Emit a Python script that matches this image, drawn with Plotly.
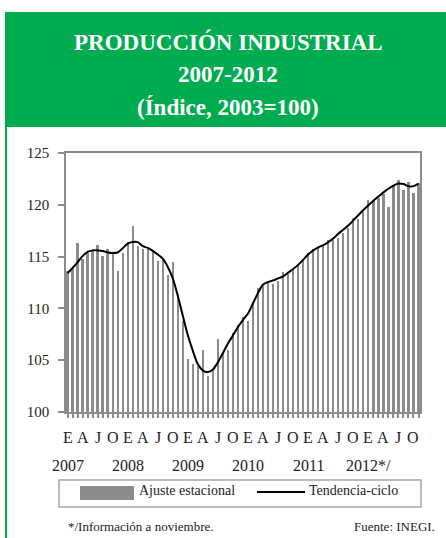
import plotly.graph_objects as go

# ---------------- data ----------------
months = list(range(71))  # Jan 2007 .. Nov 2012
ajuste_estacional = [
    113.6, 113.8, 116.3, 114.8, 115.3, 115.5, 116.1, 115.1, 115.7, 115.4, 113.6, 115.3,
    116.4, 118.0, 116.0, 115.7, 115.8, 115.4, 114.6, 114.9, 113.2, 114.5, 111.4, 108.8,
    105.1, 104.6, 104.4, 106.0, 103.5, 104.1, 107.0, 105.6, 106.0, 107.6, 108.4, 109.2,
    108.8, 110.5, 112.0, 112.4, 112.5, 112.4, 112.6, 113.5, 113.3, 113.8, 114.3, 114.8,
    115.3, 115.7, 115.85, 116.1, 116.6, 116.65, 116.8, 117.25, 117.8, 118.7, 118.6, 119.3,
    120.5, 120.35, 120.7, 121.0, 119.8, 121.9, 122.4, 121.4, 122.2, 121.1, 122.1,
]
tendencia_ciclo = [
    113.4, 113.9, 114.45, 115.05, 115.45, 115.6, 115.6, 115.55, 115.4, 115.35, 115.4, 115.8,
    116.25, 116.4, 116.4, 116.0, 115.85, 115.55, 115.2, 114.8, 114.0, 112.9, 111.2, 109.3,
    107.4, 105.9, 104.6, 104.0, 103.85, 104.1, 104.8, 105.7, 106.6, 107.4, 108.2, 108.9,
    109.5, 110.5, 111.5, 112.3, 112.55, 112.7, 112.9, 113.1, 113.45, 113.8, 114.2, 114.7,
    115.2, 115.6, 115.9, 116.1, 116.4, 116.75, 117.2, 117.6, 118.0, 118.5, 119.0, 119.5,
    119.95, 120.4, 120.8, 121.2, 121.55, 121.85, 122.05, 122.0, 121.8, 121.8, 122.05,
]
month_letter_pos = list(range(0, 71, 3))
month_letters = ["E", "A", "J", "O"] * 6
year_pos = [0, 12, 24, 36, 48, 60]
year_labels = ["2007", "2008", "2009", "2010", "2011", "2012*/"]
y_ticks = [100, 105, 110, 115, 120, 125]

# ---------------- layout helpers ----------------
W, H = 446, 538
L, R, T, B = 66, 420, 153, 412


def px(x):
    return (x - L) / (R - L)


def py(y):
    return (B - y) / (B - T)


SERIF = "Liberation Serif"
GREEN = "#00ac4f"
GRAY = "#8c8c8c"

fig = go.Figure()
fig.add_trace(go.Bar(x=months, y=ajuste_estacional, width=0.45,
                     marker=dict(color=GRAY, line=dict(width=0)),
                     name="Ajuste estacional", showlegend=False))
fig.add_trace(go.Scatter(x=months, y=tendencia_ciclo, mode="lines",
                         line=dict(color="black", width=2, shape="spline", smoothing=0.8),
                         name="Tendencia-ciclo", showlegend=False))

shapes = [
    dict(type="rect", xref="paper", yref="paper", x0=px(5), x1=px(450), y0=py(127), y1=py(12),
         fillcolor=GREEN, line=dict(width=0), layer="below"),
    dict(type="rect", xref="paper", yref="paper", x0=px(5), x1=px(7), y0=py(545), y1=py(127),
         fillcolor=GREEN, line=dict(width=0), layer="below"),
    dict(type="rect", xref="paper", yref="paper", x0=px(59), x1=px(421), y0=py(507), y1=py(480),
         line=dict(color="#a6a6a6", width=1.5), fillcolor="rgba(0,0,0,0)"),
    dict(type="rect", xref="paper", yref="paper", x0=px(80), x1=px(134), y0=py(500), y1=py(486),
         fillcolor=GRAY, line=dict(width=0)),
    dict(type="line", xref="paper", yref="paper", x0=px(257), x1=px(305), y0=py(492), y1=py(492),
         line=dict(color="black", width=2)),
]

annotations = []
header = [("PRODUCCIÓN INDUSTRIAL", 42), ("2007-2012", 75), ("(Índice, 2003=100)", 108)]
for txt, yy in header:
    annotations.append(dict(text=f"<b>{txt}</b>", xref="paper", yref="paper", x=px(228), y=py(yy),
                            xanchor="center", yanchor="middle", showarrow=False,
                            font=dict(family=SERIF, size=23, color="white")))
for pos, lab in zip(month_letter_pos, month_letters):
    annotations.append(dict(text=lab, xref="x", yref="paper", x=pos, y=py(437),
                            xanchor="center", yanchor="middle", showarrow=False,
                            font=dict(family=SERIF, size=16, color="#222")))
for pos, lab in zip(year_pos, year_labels):
    annotations.append(dict(text=lab, xref="x", yref="paper", x=pos, y=py(465),
                            xanchor="center", yanchor="middle", showarrow=False,
                            font=dict(family=SERIF, size=16, color="#222")))
annotations += [
    dict(text="Ajuste estacional", xref="paper", yref="paper", x=px(137), y=py(490),
         xanchor="left", yanchor="middle", showarrow=False,
         font=dict(family=SERIF, size=14, color="#222")),
    dict(text="Tendencia-ciclo", xref="paper", yref="paper", x=px(307), y=py(490),
         xanchor="left", yanchor="middle", showarrow=False,
         font=dict(family=SERIF, size=14, color="#222")),
    dict(text="*/Información a noviembre.", xref="paper", yref="paper", x=px(66), y=py(526),
         xanchor="left", yanchor="middle", showarrow=False,
         font=dict(family=SERIF, size=13, color="#222")),
    dict(text="Fuente: INEGI.", xref="paper", yref="paper", x=px(437), y=py(526),
         xanchor="right", yanchor="middle", showarrow=False,
         font=dict(family=SERIF, size=13, color="#222")),
]

fig.update_layout(
    width=W, height=H,
    margin=dict(l=L, r=W - R, t=T, b=H - B, pad=0),
    paper_bgcolor="white", plot_bgcolor="white",
    bargap=0, hovermode=False,
    shapes=shapes, annotations=annotations,
    xaxis=dict(range=[-0.3, 70.3], tickvals=months, showticklabels=False,
               ticks="outside", ticklen=4, tickwidth=1.5, tickcolor=GRAY,
               showline=True, linecolor=GRAY, linewidth=1.5, mirror=True,
               showgrid=False, zeroline=False, fixedrange=True),
    yaxis=dict(range=[100, 125], tickvals=y_ticks,
               ticks="outside", ticklen=6, tickwidth=1.5, tickcolor=GRAY,
               showline=True, linecolor=GRAY, linewidth=1.5, mirror=True,
               showgrid=False, zeroline=False, ticklabelstandoff=6,
               tickfont=dict(family=SERIF, size=15, color="#222"), fixedrange=True),
)

fig.write_html("out.html", config={"displayModeBar": False},
               post_script="document.body.style.margin='0';document.body.style.overflow='hidden';")
